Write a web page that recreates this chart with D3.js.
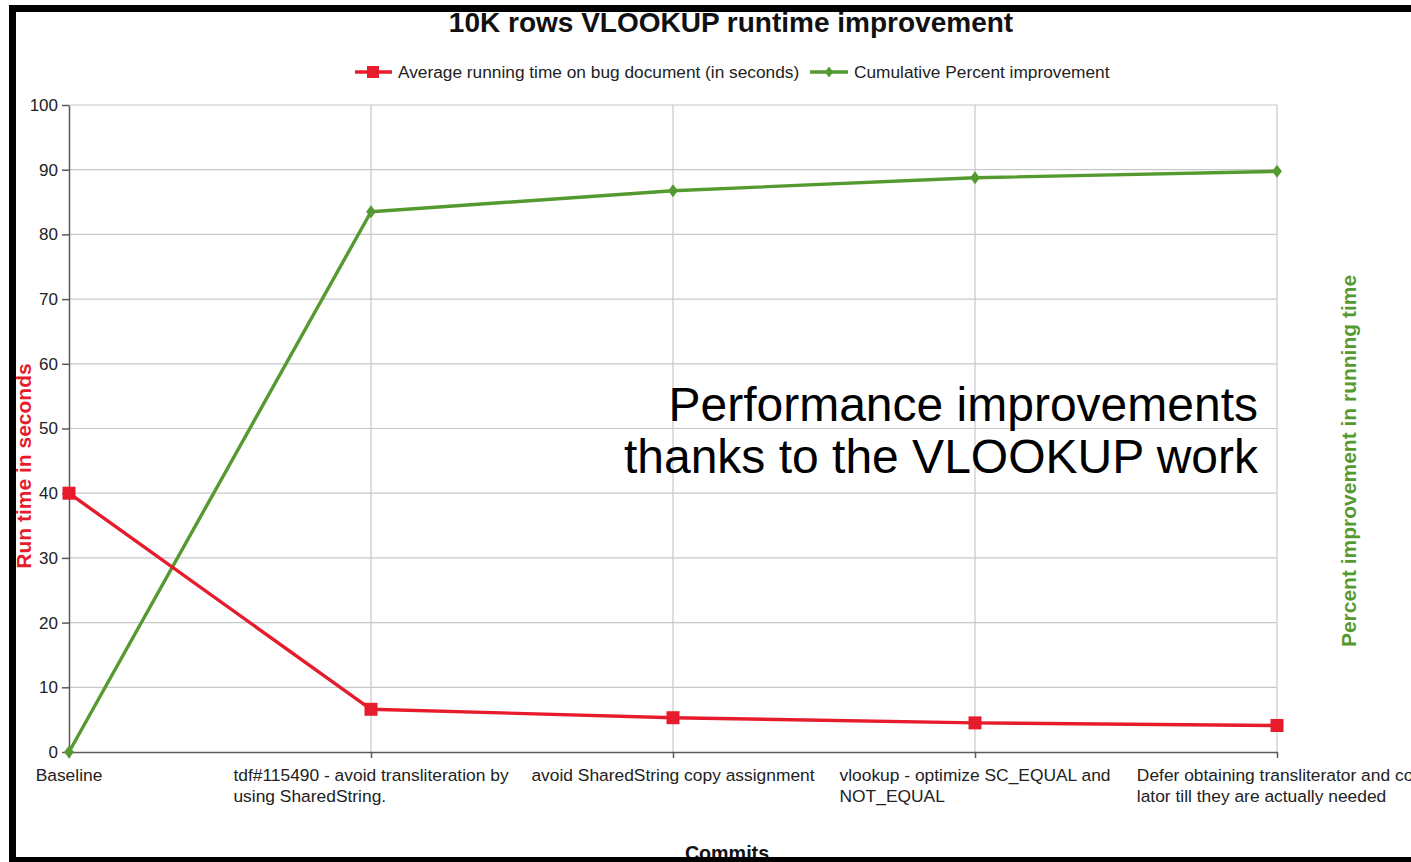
<!DOCTYPE html>
<html>
<head>
<meta charset="utf-8">
<script src="https://cdn.jsdelivr.net/npm/d3@7"></script>
<style>
  html, body { margin: 0; padding: 0; background: #fff; overflow: hidden; }
  svg { display: block; }
  text { font-family: "Liberation Sans", Arial, sans-serif; }
</style>
</head>
<body>
<svg id="chart" width="1411" height="862"></svg>
<script>
// Commits along the x axis (each label may wrap onto two lines)
const commits = [
  ["Baseline"],
  ["tdf#115490 - avoid transliteration by", "using SharedString."],
  ["avoid SharedString copy assignment"],
  ["vlookup - optimize SC_EQUAL and", "NOT_EQUAL"],
  ["Defer obtaining transliterator and col", "lator till they are actually needed"]
];
// Average running time on the bug document, seconds
const runTime = [40, 6.6, 5.3, 4.5, 4.1];
// Cumulative percent improvement against the baseline
const improvement = [0, 83.5, 86.75, 88.75, 89.75];
const yTicks = [0, 10, 20, 30, 40, 50, 60, 70, 80, 90, 100];

const RED = "#e61c2c";
const GREEN = "#559a30";

const svg = d3.select("#chart");
const W = 1411, H = 862;
const plot = { left: 69, right: 1277, top: 105, bottom: 752 };

svg.append("rect").attr("width", W).attr("height", H).attr("fill", "#fff");

const x = d3.scalePoint()
  .domain(d3.range(commits.length))
  .range([plot.left, plot.right]);
const y = d3.scaleLinear().domain([0, 100]).range([plot.bottom, plot.top]);

// Grid
const grid = svg.append("g");
grid.selectAll("line.h").data(yTicks.filter(d => d > 0)).join("line")
  .attr("x1", plot.left).attr("x2", plot.right)
  .attr("y1", d => y(d)).attr("y2", d => y(d))
  .attr("stroke", "#c8c8c8").attr("stroke-width", 1.2);
grid.selectAll("line.v").data(d3.range(1, commits.length)).join("line")
  .attr("x1", d => x(d)).attr("x2", d => x(d))
  .attr("y1", plot.top).attr("y2", plot.bottom)
  .attr("stroke", "#c8c8c8").attr("stroke-width", 1.2);

// Left axis
const yAxis = svg.append("g")
  .attr("transform", `translate(${plot.left},0)`)
  .call(d3.axisLeft(y).tickValues(yTicks).tickSize(7).tickPadding(4).tickSizeOuter(0));
yAxis.select(".domain").attr("stroke", "#5a5a5a").attr("stroke-width", 1.5);
yAxis.selectAll(".tick line").attr("stroke", "#5a5a5a").attr("stroke-width", 1.5);
yAxis.selectAll(".tick text")
  .attr("font-size", 17).attr("fill", "#222")
  .attr("font-family", "Liberation Sans, Arial, sans-serif");

// Bottom axis
const xAxis = svg.append("g")
  .attr("transform", `translate(0,${plot.bottom})`)
  .call(d3.axisBottom(x).tickSize(6).tickSizeOuter(0).tickFormat(""));
xAxis.select(".domain").attr("stroke", "#5a5a5a").attr("stroke-width", 1.5);
xAxis.selectAll(".tick line").attr("stroke", "#5a5a5a").attr("stroke-width", 1.5);

// Category labels: block centred on the tick, lines left-aligned inside it
const labels = svg.append("g")
  .attr("font-size", 17.4).attr("fill", "#222");
commits.forEach((lines, i) => {
  const g = labels.append("g");
  const t = g.append("text").attr("y", plot.bottom + 29);
  lines.forEach((ln, j) => {
    t.append("tspan").attr("x", 0).attr("dy", j === 0 ? 0 : 21).text(ln);
  });
  const w = d3.max(t.selectAll("tspan").nodes(), n => n.getComputedTextLength());
  g.attr("transform", `translate(${x(i) - w / 2},0)`);
});

// Series
const lineGen = d3.line().x((d, i) => x(i)).y(d => y(d));
svg.append("path").datum(improvement)
  .attr("d", lineGen).attr("fill", "none")
  .attr("stroke", GREEN).attr("stroke-width", 3.4).attr("stroke-linejoin", "round");
svg.append("path").datum(runTime)
  .attr("d", lineGen).attr("fill", "none")
  .attr("stroke", RED).attr("stroke-width", 3.4).attr("stroke-linejoin", "round");

const diamond = s => `M0,${-s}L${s * 0.75},0L0,${s}L${-s * 0.75},0Z`;
svg.append("g").selectAll("path").data(improvement).join("path")
  .attr("d", diamond(6.5))
  .attr("transform", (d, i) => `translate(${x(i)},${y(d)})`)
  .attr("fill", GREEN);
svg.append("g").selectAll("rect").data(runTime).join("rect")
  .attr("x", (d, i) => x(i) - 6.5).attr("y", d => y(d) - 6.5)
  .attr("width", 13).attr("height", 13)
  .attr("fill", RED);

// Title
svg.append("text")
  .attr("x", 731).attr("y", 32)
  .attr("text-anchor", "middle")
  .attr("font-size", 28).attr("font-weight", "bold").attr("fill", "#111")
  .text("10K rows VLOOKUP runtime improvement");

// Legend
const legend = svg.append("g")
  .attr("font-size", 17.3).attr("fill", "#222");
legend.append("line").attr("x1", 355).attr("x2", 392).attr("y1", 72).attr("y2", 72)
  .attr("stroke", RED).attr("stroke-width", 3.4);
legend.append("rect").attr("x", 367).attr("y", 66).attr("width", 12).attr("height", 12).attr("fill", RED);
legend.append("text").attr("x", 398).attr("y", 78)
  .text("Average running time on bug document (in seconds)");
legend.append("line").attr("x1", 810).attr("x2", 848).attr("y1", 72).attr("y2", 72)
  .attr("stroke", GREEN).attr("stroke-width", 3.4);
legend.append("path").attr("d", diamond(5.5)).attr("transform", "translate(829,72)").attr("fill", GREEN);
legend.append("text").attr("x", 854).attr("y", 78)
  .text("Cumulative Percent improvement");

// Axis titles
svg.append("text")
  .attr("transform", "translate(31,466) rotate(-90)")
  .attr("text-anchor", "middle")
  .attr("font-size", 21).attr("font-weight", "bold").attr("fill", RED)
  .text("Run time in seconds");
svg.append("text")
  .attr("transform", "translate(1356,461) rotate(-90)")
  .attr("text-anchor", "middle")
  .attr("font-size", 21).attr("font-weight", "bold").attr("fill", GREEN)
  .text("Percent improvement in running time");
svg.append("text")
  .attr("x", 727).attr("y", 860)
  .attr("text-anchor", "middle")
  .attr("font-size", 19.7).attr("font-weight", "bold").attr("fill", "#111")
  .text("Commits");

// Annotation
const note = svg.append("text")
  .attr("text-anchor", "end")
  .attr("font-size", 48).attr("fill", "#000");
note.append("tspan").attr("x", 1258).attr("y", 421).text("Performance improvements");
note.append("tspan").attr("x", 1258).attr("y", 473).text("thanks to the VLOOKUP work");

// Frame
svg.append("rect")
  .attr("x", 12.5).attr("y", 8.5).attr("width", W + 20).attr("height", 852)
  .attr("fill", "none").attr("stroke", "#000").attr("stroke-width", 7);
</script>
</body>
</html>
